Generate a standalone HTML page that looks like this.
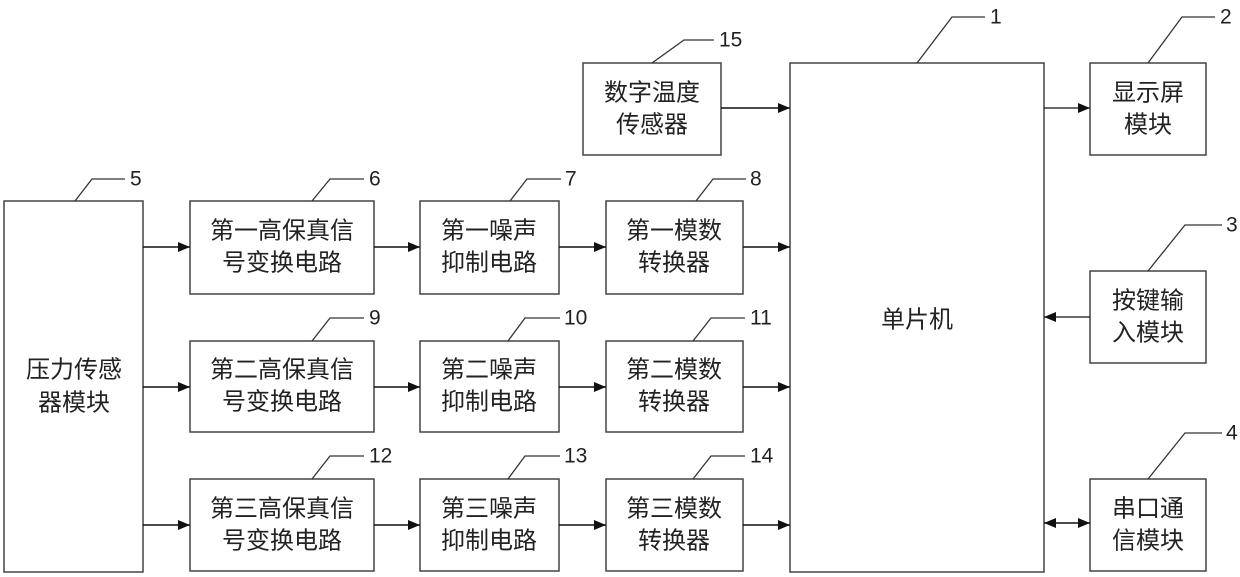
<!DOCTYPE html>
<html><head><meta charset="utf-8"><style>
html,body{margin:0;padding:0;background:#fff;width:1240px;height:577px;overflow:hidden}
text{font-family:"Liberation Sans","Noto Sans CJK SC",sans-serif;fill:#222}
.t{font-size:24px;text-anchor:middle;dominant-baseline:central}
.n{font-size:21px;dominant-baseline:central}
rect{fill:#fff;stroke:#444;stroke-width:1.5}
.l{stroke:#111;stroke-width:1.6;fill:none}
.g{stroke:#333;stroke-width:1.3;fill:none}
</style></head><body>
<svg width="1240" height="577" viewBox="0 0 1240 577" xmlns="http://www.w3.org/2000/svg">
<defs>
<marker id="a" markerWidth="12" markerHeight="10" refX="12" refY="5" orient="auto" markerUnits="userSpaceOnUse"><path d="M0,0 L12,5 L0,10 Z" fill="#111"/></marker>
<marker id="b" markerWidth="12" markerHeight="10" refX="0" refY="5" orient="auto" markerUnits="userSpaceOnUse"><path d="M12,0 L0,5 L12,10 Z" fill="#111"/></marker>
</defs>
<!-- boxes -->
<rect x="4" y="201" width="139" height="371"/>
<rect x="583" y="63" width="138" height="92"/>
<rect x="790" y="63" width="254" height="509"/>
<rect x="1090" y="63" width="116" height="92"/>
<rect x="1090" y="271" width="116" height="92"/>
<rect x="1090" y="479" width="116" height="92"/>
<g>
<rect x="190" y="201" width="184" height="93"/><rect x="420" y="201" width="139" height="93"/><rect x="606" y="201" width="137" height="93"/>
<rect x="190" y="341" width="184" height="91"/><rect x="420" y="341" width="139" height="91"/><rect x="606" y="341" width="137" height="91"/>
<rect x="190" y="479" width="184" height="92"/><rect x="420" y="479" width="139" height="92"/><rect x="606" y="479" width="137" height="92"/>
</g>
<!-- texts -->
<text class="t" x="74" y="370">压力传感</text><text class="t" x="74" y="403">器模块</text>
<text class="t" x="652" y="93">数字温度</text><text class="t" x="652" y="125">传感器</text>
<text class="t" x="917" y="320">单片机</text>
<text class="t" x="1148" y="93">显示屏</text><text class="t" x="1148" y="125">模块</text>
<text class="t" x="1148" y="301">按键输</text><text class="t" x="1148" y="333">入模块</text>
<text class="t" x="1148" y="509">串口通</text><text class="t" x="1148" y="541">信模块</text>

<text class="t" x="282" y="231">第一高保真信</text><text class="t" x="282" y="263">号变换电路</text>
<text class="t" x="489" y="231">第一噪声</text><text class="t" x="489" y="263">抑制电路</text>
<text class="t" x="674" y="231">第一模数</text><text class="t" x="674" y="263">转换器</text>
<text class="t" x="282" y="370">第二高保真信</text><text class="t" x="282" y="402">号变换电路</text>
<text class="t" x="489" y="370">第二噪声</text><text class="t" x="489" y="402">抑制电路</text>
<text class="t" x="674" y="370">第二模数</text><text class="t" x="674" y="402">转换器</text>
<text class="t" x="282" y="509">第三高保真信</text><text class="t" x="282" y="541">号变换电路</text>
<text class="t" x="489" y="509">第三噪声</text><text class="t" x="489" y="541">抑制电路</text>
<text class="t" x="674" y="509">第三模数</text><text class="t" x="674" y="541">转换器</text>
<!-- arrows -->
<g class="l">
<line x1="143" y1="247" x2="190" y2="247" marker-end="url(#a)"/>
<line x1="374" y1="247" x2="420" y2="247" marker-end="url(#a)"/>
<line x1="559" y1="247" x2="606" y2="247" marker-end="url(#a)"/>
<line x1="743" y1="247" x2="790" y2="247" marker-end="url(#a)"/>
<line x1="143" y1="387" x2="190" y2="387" marker-end="url(#a)"/>
<line x1="374" y1="387" x2="420" y2="387" marker-end="url(#a)"/>
<line x1="559" y1="387" x2="606" y2="387" marker-end="url(#a)"/>
<line x1="743" y1="387" x2="790" y2="387" marker-end="url(#a)"/>
<line x1="143" y1="525" x2="190" y2="525" marker-end="url(#a)"/>
<line x1="374" y1="525" x2="420" y2="525" marker-end="url(#a)"/>
<line x1="559" y1="525" x2="606" y2="525" marker-end="url(#a)"/>
<line x1="743" y1="525" x2="790" y2="525" marker-end="url(#a)"/>
<line x1="721" y1="108" x2="790" y2="108" marker-end="url(#a)"/>
<line x1="1044" y1="108" x2="1090" y2="108" marker-end="url(#a)" style="stroke-width:1.2"/>
<line x1="1090" y1="317" x2="1044" y2="317" marker-end="url(#a)" style="stroke-width:1.2"/>
<line x1="1044" y1="523" x2="1090" y2="523" marker-start="url(#b)" marker-end="url(#a)"/>
</g>
<!-- leaders -->
<g class="g">
<polyline points="75,201 92,179 125,179"/>
<polyline points="312,201 330,179 364,179"/>
<polyline points="510,201 527,179 561,179"/>
<polyline points="696,201 713,179 746,179"/>
<polyline points="312,341 330,318 364,318"/>
<polyline points="508,341 525,318 560,318"/>
<polyline points="693,341 711,318 745,318"/>
<polyline points="312,479 330,456 364,456"/>
<polyline points="508,479 525,456 560,456"/>
<polyline points="693,479 711,456 745,456"/>
<polyline points="652,63 684,40 714,40"/>
<polyline points="917,63 952,17 985,17"/>
<polyline points="1148,63 1182,17 1215,17"/>
<polyline points="1148,271 1185,225 1222,225"/>
<polyline points="1148,479 1185,433 1222,433"/>
</g>
<text class="n" x="130" y="179">5</text>
<text class="n" x="369" y="179">6</text>
<text class="n" x="565" y="179">7</text>
<text class="n" x="750" y="179">8</text>
<text class="n" x="369" y="318">9</text>
<text class="n" x="564" y="318">10</text>
<text class="n" x="750" y="318">11</text>
<text class="n" x="369" y="456">12</text>
<text class="n" x="564" y="456">13</text>
<text class="n" x="750" y="456">14</text>
<text class="n" x="719" y="40">15</text>
<text class="n" x="990" y="17">1</text>
<text class="n" x="1220" y="17">2</text>
<text class="n" x="1226" y="225">3</text>
<text class="n" x="1226" y="433">4</text>
</svg>
</body></html>
